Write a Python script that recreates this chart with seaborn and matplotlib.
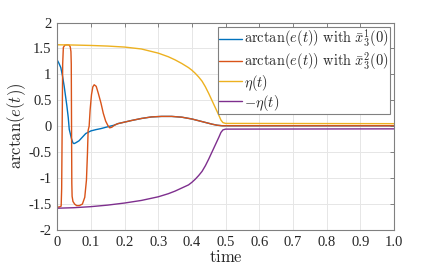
import matplotlib
matplotlib.use('Agg')
import matplotlib.pyplot as plt
import seaborn as sns
import pandas as pd

# values
t_blue = [0, 0.005, 0.011, 0.016, 0.021, 0.025, 0.029, 0.033, 0.036, 0.039, 0.043, 0.047,
          0.05, 0.055, 0.06, 0.065, 0.075, 0.085, 0.1, 0.115, 0.13, 0.15, 0.169, 0.18,
          0.2, 0.22, 0.25, 0.28, 0.31, 0.34, 0.37, 0.4, 0.43, 0.46, 0.475, 0.49, 0.5, 1.0]
e_blue = [1.28, 1.22, 1.13, 0.97, 0.77, 0.58, 0.39, 0.17, -0.06, -0.14, -0.25, -0.32,
          -0.335, -0.32, -0.30, -0.28, -0.21, -0.14, -0.09, -0.065, -0.045, -0.01, 0.02, 0.05,
          0.08, 0.11, 0.15, 0.18, 0.19, 0.19, 0.175, 0.14, 0.09, 0.04, 0.02, 0.01, 0.01, 0.01]

t_orange = [0, 0.007, 0.012, 0.0135, 0.015, 0.0165, 0.0185, 0.023, 0.03, 0.036, 0.039,
            0.041, 0.042, 0.0428, 0.0436, 0.0445, 0.047, 0.052, 0.058, 0.066, 0.075, 0.082,
            0.087, 0.09, 0.092, 0.095, 0.098, 0.102, 0.106, 0.11, 0.116, 0.122, 0.13, 0.137,
            0.144, 0.151, 0.156, 0.162, 0.17, 0.18,
            0.2, 0.22, 0.25, 0.28, 0.31, 0.34, 0.37, 0.4, 0.43, 0.46, 0.475, 0.49, 0.5, 1.0]
e_orange = [-1.56, -1.555, -1.54, -1.2, 0.0, 1.2, 1.52, 1.565, 1.57, 1.565, 1.53,
            1.44, 1.2, 0.0, -1.1, -1.35, -1.45, -1.5, -1.53, -1.53, -1.5, -1.37,
            -1.04, -0.53, -0.08, 0.0, 0.32, 0.61, 0.76, 0.80, 0.77, 0.64, 0.45, 0.25,
            0.10, 0.01, -0.03, -0.02, 0.02, 0.05,
            0.08, 0.11, 0.15, 0.18, 0.19, 0.19, 0.175, 0.14, 0.09, 0.04, 0.02, 0.01, 0.01, 0.01]

t_eta = [0, 0.05, 0.1, 0.15, 0.2, 0.25, 0.3, 0.33, 0.35, 0.37, 0.39, 0.4, 0.41, 0.42,
         0.43, 0.44, 0.45, 0.46, 0.47, 0.48, 0.486, 0.492, 0.5, 1.0]
eta = [1.571, 1.566, 1.558, 1.546, 1.527, 1.49, 1.41, 1.34, 1.28, 1.21, 1.13, 1.08, 1.02,
       0.95, 0.87, 0.76, 0.63, 0.49, 0.35, 0.21, 0.12, 0.07, 0.055, 0.05]
neg_eta = [-1.58, -1.57, -1.55, -1.52, -1.48, -1.43, -1.36, -1.30, -1.25, -1.19, -1.13,
           -1.08, -1.02, -0.95, -0.87, -0.76, -0.63, -0.49, -0.35, -0.21, -0.12, -0.07,
           -0.055, -0.05]

labels = [r'$\arctan(e(t))\ \mathrm{with}\ \bar{x}_3^1(0)$',
          r'$\arctan(e(t))\ \mathrm{with}\ \bar{x}_3^2(0)$',
          r'$\eta(t)$',
          r'$-\eta(t)$']
colors = ['#0072BD', '#D95319', '#EDB120', '#7E2F8E']

x_ticks = [0, 0.1, 0.2, 0.3, 0.4, 0.5, 0.6, 0.7, 0.8, 0.9, 1.0]
x_ticklabels = ['0', '0.1', '0.2', '0.3', '0.4', '0.5', '0.6', '0.7', '0.8', '0.9', '1.0']
y_ticks = [-2, -1.5, -1, -0.5, 0, 0.5, 1, 1.5, 2]
y_ticklabels = ['-2', '-1.5', '-1', '-0.5', '0', '0.5', '1', '1.5', '2']

sns.set_style('white')
plt.rcParams['font.family'] = ['Liberation Serif', 'DejaVu Serif']
plt.rcParams['mathtext.fontset'] = 'cm'

fig = plt.figure(figsize=(4.36, 2.73), dpi=100)
ax = fig.add_axes([0.131, 0.1575, 0.773, 0.76])

series = [(t_blue, e_blue), (t_orange, e_orange), (t_eta, eta), (t_eta, neg_eta)]
for (tt, vv), lab, col in zip(series, labels, colors):
    df = pd.DataFrame({'t': tt, 'v': vv})
    sns.lineplot(data=df, x='t', y='v', ax=ax, color=col, label=lab, linewidth=1.0,
                 sort=False, estimator=None)

ax.set_xlim(0, 1.0)
ax.set_ylim(-2, 2)
ax.set_xticks(x_ticks)
ax.set_xticklabels(x_ticklabels)
ax.set_yticks(y_ticks)
ax.set_yticklabels(y_ticklabels)
ax.grid(True, color='#e6e6e6', linewidth=0.7)
ax.tick_params(direction='in', length=3, width=0.7, colors='#808080', labelcolor='#262626',
               labelsize=10.5, top=True, right=True, pad=4)
for s in ax.spines.values():
    s.set_visible(True)
    s.set_color('#808080')
    s.set_linewidth(0.8)

ax.set_xlabel(r'$\mathrm{time}$', fontsize=12, labelpad=1)
ax.set_ylabel(r'$\arctan(e(t))$', fontsize=12, labelpad=0)

leg = ax.legend(loc='upper right', fontsize=10.4, frameon=True, fancybox=False,
                edgecolor='#808080', handlelength=1.6, handletextpad=0.1,
                borderpad=0.1, labelspacing=0.0, borderaxespad=0.3, framealpha=1)
leg.get_frame().set_linewidth(0.8)

fig.savefig('out.png', dpi=100)
